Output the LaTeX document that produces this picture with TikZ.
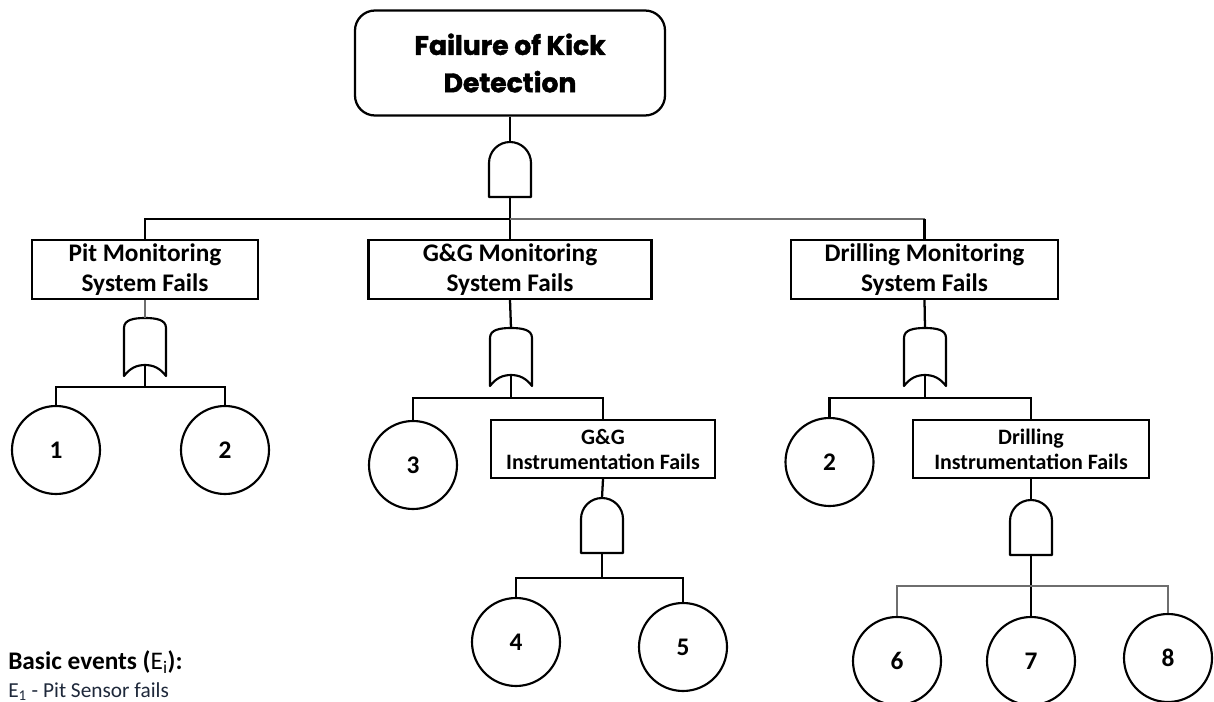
\documentclass[tikz,border=0pt]{standalone}
\usepackage{fontspec}
\setmainfont{Carlito}
\newfontfamily\titlefont{Poppins}[BoldFeatures={FakeBold=1.6}]
\definecolor{thinline}{RGB}{110,110,110}
\definecolor{notetext}{RGB}{30,40,58}
\begin{document}
\begin{tikzpicture}[x=0.75pt,y=-0.75pt,
  thk/.style={line width=1.7pt, black},
  thn/.style={line width=0.8pt, thinline},
  gate/.style={line width=1.6pt, fill=white, line join=round},
  evbox/.style={draw, line width=1.7pt, rectangle, inner sep=0pt, align=center,
    minimum height=44.25pt, font=\bfseries\fontsize{19}{22.5}\selectfont},
  subbox/.style={draw, line width=1.7pt, rectangle, inner sep=0pt, align=center,
    minimum height=43.5pt, font=\bfseries\fontsize{16.5}{18.75}\selectfont},
  basic/.style={draw, circle, line width=1.6pt, minimum size=66pt, inner sep=0pt,
    font=\bfseries\fontsize{19}{22}\selectfont},
  andgate/.pic={
    \draw[gate] (-21,55) -- (-21,21) .. controls (-21,9.4) and (-11.6,0) .. (0,0)
      .. controls (11.6,0) and (21,9.4) .. (21,21) -- (21,55) -- cycle;
    \coordinate (-top) at (0,0);
    \coordinate (-bot) at (0,55);
  },
  orgate/.pic={
    \draw[gate] (-21,58) -- (-21,10) .. controls (-21,2) and (-12,0) .. (0,0)
      .. controls (12,0) and (21,2) .. (21,10) -- (21,58)
      .. controls (15,50) and (8,47) .. (0,47)
      .. controls (-8,47) and (-15,50) .. (-21,58) -- cycle;
    \coordinate (-top) at (0,0);
    \coordinate (-bot) at (0,47);
  }]
\clip (0,0) rectangle (1214,702);

% top event
\node[draw, line width=1.7pt, rounded corners=15pt, minimum width=232.5pt,
  minimum height=78.75pt, align=center,
  font=\titlefont\bfseries\fontsize{20}{28}\selectfont] (top) at (510,63)
  {Failure of Kick\\Detection};

% intermediate events
\node[evbox, minimum width=169.5pt] (pit) at (145,269.5) {Pit Monitoring\\System Fails};
\node[evbox, minimum width=212.25pt] (gg) at (510,269.5) {G\&G Monitoring\\System Fails};
\node[evbox, minimum width=200.25pt] (drill) at (924.5,269.5) {Drilling Monitoring\\System Fails};
\node[subbox, minimum width=168pt] (ggi) at (603,449) {G\&G\\Instrumentation Fails};
\node[subbox, minimum width=177pt] (dri) at (1031,449) {Drilling\\Instrumentation Fails};

% basic events
\node[basic] (e1) at (56,450) {1};
\node[basic] (e2) at (225,450) {2};
\node[basic] (e3) at (413,465) {3};
\node[basic] (e2b) at (829.5,462) {2};
\node[basic] (e4) at (516,642) {4};
\node[basic] (e5) at (683,647) {5};
\node[basic] (e6) at (897,661) {6};
\node[basic] (e7) at (1031,661) {7};
\node[basic] (e8) at (1168,658) {8};

% gates
\pic (g0) at (510,142) {andgate};
\pic (g1) at (145,318) {orgate};
\pic (g2) at (511,328) {orgate};
\pic (g3) at (925,328) {orgate};
\pic (g4) at (602,498) {andgate};
\pic (g5) at (1031,500) {andgate};

% junctions
\coordinate (j0) at (510,219);
\coordinate (j1) at (145,387);
\coordinate (j2) at (511,398);
\coordinate (j3) at (602,578);
\coordinate (j4) at (925,398);
\coordinate (j5) at (1031,586);

% top level
\draw[thk] (top) -- (g0-top);
\draw[thk] (g0-bot) -- (gg.north);
\draw[thk] (j0) -| (pit.north);
\draw[thn] (j0) -- (j0 -| drill.north);
\draw[thk] (j0 -| drill.north) -- (drill.north);

% pit monitoring branch
\draw[thn] (pit.south) -- (g1-top);
\draw[thk] (g1-bot) -- (j1);
\draw[thk] (e1.north) |- (j1) -| (e2.north);

% G&G branch
\draw[thk] (gg.south) -- (g2-top);
\draw[thk] (g2-bot) -- (j2);
\draw[thk] (e3.north) |- (j2) -| (ggi.north);
\draw[thk] (ggi.south) -- (g4-top);
\draw[thk] (g4-bot) -- (j3);
\draw[thk] (e4.north) |- (j3) -| (e5.north);

% drilling branch
\draw[thk] (drill.south) -- (g3-top);
\draw[thk] (g3-bot) -- (j4);
\draw[thk] (e2b.north) |- (j4) -| (dri.north);
\draw[thk] (dri.south) -- (g5-top);
\draw[thk] (g5-bot) -- (e7.north);
\draw[thn] (e6.north) |- (j5) -| (e8.north);

% legend
\node[anchor=base west, inner sep=0pt, font=\fontsize{19}{22}\selectfont] (legend) at (8,669)
  {\textbf{Basic events (}E\textsubscript{i}\textbf{):}};
\node[anchor=base west, inner sep=0pt, text=notetext, font=\fontsize{16}{20}\selectfont]
  (leg1) at (8,697) {E\textsubscript{1} - Pit Sensor fails};
\end{tikzpicture}
\end{document}
